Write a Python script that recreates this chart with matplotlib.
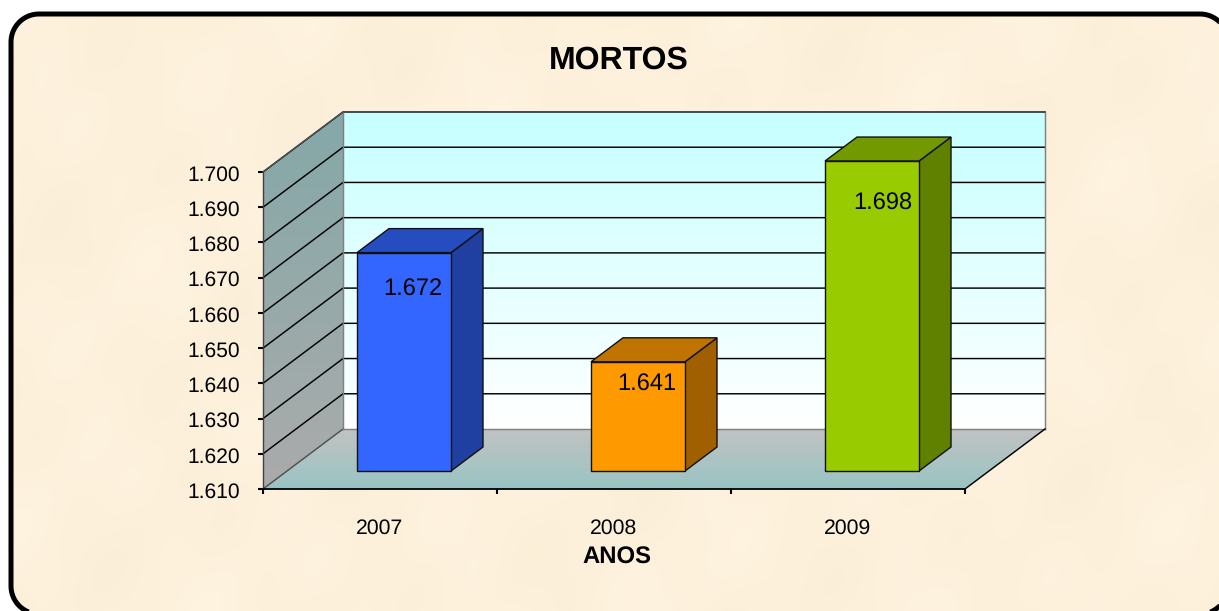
#!/usr/bin/env python3
# 3D style bar chart of deaths (MORTOS) per year, on a parchment card

import numpy as np
import matplotlib
matplotlib.use("Agg")
import matplotlib.pyplot as plt
from matplotlib.patches import PathPatch, Polygon
from matplotlib.path import Path
from matplotlib.ticker import FixedLocator, FuncFormatter, NullFormatter
from matplotlib.transforms import ScaledTranslation

years = ["2007", "2008", "2009"]
mortos = [1672, 1641, 1698]
value_labels = ["1.672", "1.641", "1.698"]
y_ticks = [1610, 1620, 1630, 1640, 1650, 1660, 1670, 1680, 1690, 1700]

front_colors = ["#3366FF", "#FF9900", "#99CC00"]
top_colors = ["#264DBF", "#BF7300", "#739900"]
side_colors = ["#1F40A0", "#A06000", "#608000"]
# where the value label sits relative to the bar's front centre/top, in points
label_offsets = [(6.5, -26.7), (6.5, -16.2), (8, -30.7)]

plt.rcParams["font.family"] = ["Liberation Sans", "DejaVu Sans"]
plt.rcParams["text.hinting"] = "no_hinting"

W, H = 1219, 611
fig = plt.figure(figsize=(W / 100, H / 100), dpi=100, facecolor="white")

# card background in pixel coordinates
bg = fig.add_axes([0, 0, 1, 1], zorder=0)
bg.set_xlim(0, W)
bg.set_ylim(H, 0)
bg.axis("off")
xx, yy = np.meshgrid(np.arange(W), np.arange(H))
tex = (np.sin(xx / 37.0 + yy / 71.0) + np.sin(xx / 23.0 - yy / 41.0 + 1.3)
       + np.sin(xx / 61.0 + yy / 29.0 + 2.1) + np.sin(xx / 13.0 + yy / 17.0 + 0.4) * 0.5)
tex = tex / 3.5
rgb = np.dstack([253 + tex * 1.5, 241 + tex * 2.5, 220 + tex * 4]) / 255
card_img = bg.imshow(np.clip(rgb, 0, 1), extent=(0, W, H, 0), aspect="auto", zorder=1)


def rounded_rect(x0, y0, x1, y1, r):
    # corners as short straight pieces, so parts past the figure edge stay clean
    t = np.linspace(0, np.pi / 2, 24)
    pts = []
    for cx, cy, start in [(x1 - r, y0 + r, -np.pi / 2), (x1 - r, y1 - r, 0),
                          (x0 + r, y1 - r, np.pi / 2), (x0 + r, y0 + r, np.pi)]:
        pts += list(zip(cx + r * np.cos(start + t), cy + r * np.sin(start + t)))
    pts.append(pts[0])
    return Path(pts, closed=False)


card = PathPatch(rounded_rect(11, 14, 1228, 614, 28), facecolor="none", edgecolor="black",
                 linewidth=3.6, zorder=2)
bg.add_patch(card)
card_img.set_clip_path(card)
bg.set_xlim(0, W)
bg.set_ylim(H, 0)

# the axes is the front plane of the 3D box
ax = fig.add_axes([263 / W, (H - 489) / H, 702 / W, 317 / H], zorder=1)
ax.patch.set_visible(False)
ax.set_xlim(0, 3)
ax.set_ylim(y_ticks[0], y_ticks[-1])

# depth of the box in data units, 80 px across and 60 px up
depth_x = 80 / 234
depth_y = 60 / 3.522


def proj(x, y, d):
    return x + d * depth_x, y + d * depth_y


def gradient_poly(points, top_color, bottom_color):
    # vertical gradient clipped to a polygon
    poly = Polygon(points, closed=True, facecolor="none", edgecolor="none",
                   transform=ax.transData, clip_on=False, zorder=1)
    ax.add_patch(poly)
    xs = [p[0] for p in points]
    ys = [p[1] for p in points]
    c1 = np.array(matplotlib.colors.to_rgb(top_color))
    c2 = np.array(matplotlib.colors.to_rgb(bottom_color))
    t = np.linspace(0, 1, 256)[:, None, None]
    img = c1[None, None, :] * (1 - t) + c2[None, None, :] * t
    im = ax.imshow(img, extent=(min(xs), max(xs), min(ys), max(ys)), origin="upper",
                   aspect="auto", zorder=1)
    im.set_clip_on(True)
    im.set_clip_box(fig.bbox)
    im.set_clip_path(poly)


y0, y1 = y_ticks[0], y_ticks[-1]
gradient_poly([proj(0, y0, 1), proj(3, y0, 1), proj(3, y1, 1), proj(0, y1, 1)], "#C6FFFF", "#FFFFFF")
gradient_poly([proj(0, y0, 0), proj(0, y0, 1), proj(0, y1, 1), proj(0, y1, 0)], "#84A8A8", "#ABABAB")
gradient_poly([proj(0, y0, 0), proj(3, y0, 0), proj(3, y0, 1), proj(0, y0, 1)], "#C2C2C2", "#99C4C4")
ax.set_xlim(0, 3)
ax.set_ylim(y0, y1)

line_px = 1.05
for v in y_ticks[1:]:
    xs, ys = zip(proj(0, v, 0), proj(0, v, 1), proj(3, v, 1))
    ax.plot(xs, ys, color="black", lw=line_px, clip_on=False, zorder=2, solid_joinstyle="miter")

# box outlines
for a, b, c in [((0, y0, 0), (0, y0, 1), "#505050"),
                ((0, y0, 1), (3, y0, 1), "#808080"),
                ((0, y0, 1), (0, y1, 1), "#808080"),
                ((3, y0, 1), (3, y1, 1), "#808080"),
                ((3, y0, 0), (3, y0, 1), "black")]:
    xs, ys = zip(proj(*a), proj(*b))
    ax.plot(xs, ys, color=c, lw=line_px, clip_on=False, zorder=2.2)
xs, ys = zip(proj(0, y1, 0), proj(0, y1, 1), proj(3, y1, 1))
ax.plot(xs, ys, color="#505050", lw=line_px, clip_on=False, zorder=2.2)

# bars stand in the middle of the floor depth
bar_w = 94 / 234
d0, d1 = 0.3, 0.7
for i, v in enumerate(mortos):
    left = i + 0.5 - bar_w / 2
    right = left + bar_w
    front = [proj(left, y0, d0), proj(right, y0, d0), proj(right, v, d0), proj(left, v, d0)]
    side = [proj(right, y0, d0), proj(right, y0, d1), proj(right, v, d1), proj(right, v, d0)]
    top = [proj(left, v, d0), proj(right, v, d0), proj(right, v, d1), proj(left, v, d1)]
    for pts, col in [(side, side_colors[i]), (top, top_colors[i]), (front, front_colors[i])]:
        ax.add_patch(Polygon(pts, closed=True, facecolor=col, edgecolor="#101010",
                             linewidth=1.0, clip_on=False, zorder=3, joinstyle="miter"))
    cx, cy = proj(i + 0.5, v, d0)
    ax.annotate(value_labels[i], (cx, cy), xytext=label_offsets[i], textcoords="offset points",
                ha="center", va="center", fontsize=17, color="black", zorder=4,
                annotation_clip=False)

# axes dressing
for name in ["top", "right"]:
    ax.spines[name].set_visible(False)
ax.spines["left"].set_color("#404040")
ax.spines["left"].set_linewidth(1.0)
ax.spines["bottom"].set_color("black")
ax.spines["bottom"].set_linewidth(1.3)

ax.yaxis.set_major_locator(FixedLocator(y_ticks))
ax.yaxis.set_major_formatter(FuncFormatter(lambda v, p: f"1.{int(v) - 1000:03d}"))
ax.tick_params(axis="y", which="major", length=3.6, width=1.5, pad=13, labelsize=15.1, color="black")

ax.xaxis.set_major_locator(FixedLocator([0, 1, 2, 3]))
ax.xaxis.set_major_formatter(NullFormatter())
ax.xaxis.set_minor_locator(FixedLocator([0.5, 1.5, 2.5]))
ax.set_xticklabels(years, minor=True)
ax.tick_params(axis="x", which="major", length=3.6, width=1.5, color="black")
ax.tick_params(axis="x", which="minor", length=0, pad=21, labelsize=15.3)

# y labels sit one pixel lower than the tick centre
nudge = ScaledTranslation(0, -1 / 100, fig.dpi_scale_trans)
for lab in ax.get_yticklabels():
    lab.set_transform(lab.get_transform() + nudge)

fig.text(618.5 / W, 1 - 60 / H, "MORTOS", ha="center", va="center", fontsize=23,
         fontweight="bold", color="black")
fig.text(617 / W, 1 - 558 / H, "ANOS", ha="center", va="center", fontsize=17.2,
         fontweight="bold", color="black")

fig.savefig("out.png", dpi=100)
